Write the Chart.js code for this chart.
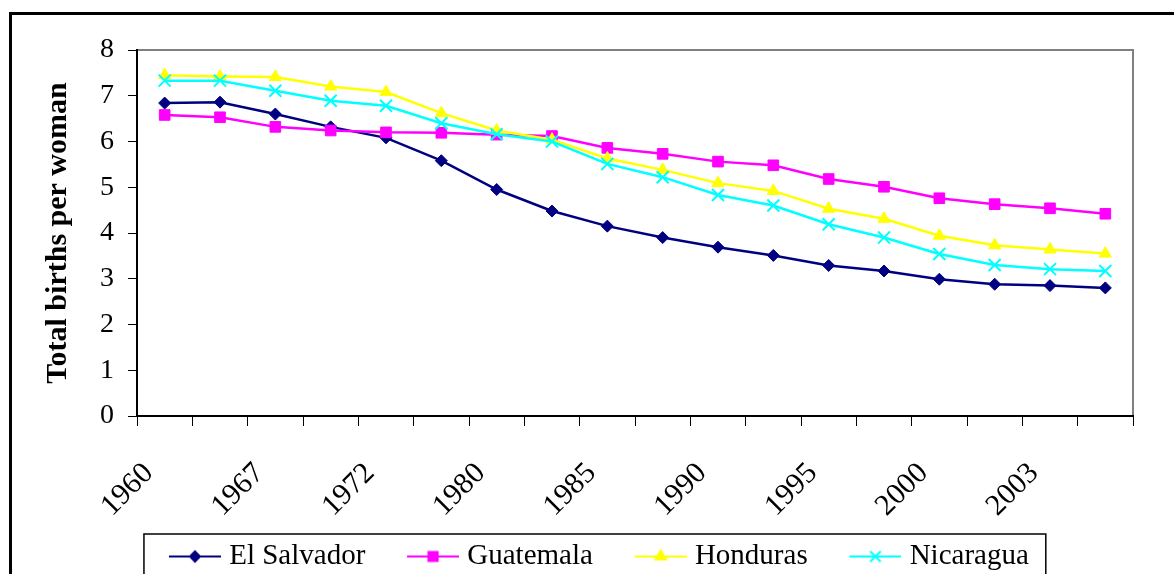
<!DOCTYPE html>
<html>
<head>
<meta charset="utf-8">
<script src="https://cdn.jsdelivr.net/npm/chart.js@4/dist/chart.umd.min.js"></script>
<style>
  html, body { margin: 0; padding: 0; background: #fff; overflow: hidden; }
  #wrap { position: absolute; left: 0; top: 0; width: 1174px; height: 581px; }
  #frame { position: absolute; left: 9px; top: 12px; width: 1300px; height: 700px;
           border-left: 3px solid #000; border-top: 3px solid #000; pointer-events: none; }
</style>
</head>
<body>
<div id="wrap"><canvas id="tfrChart"></canvas></div>
<div id="frame"></div>
<script>
// tick labels (only every second year is printed)
const years = ['1960', '', '1967', '', '1972', '', '1980', '', '1985', '',
               '1990', '', '1995', '', '2000', '', '2003', ''];

// total births per woman
const elSalvador = [6.84, 6.86, 6.60, 6.32, 6.08, 5.58, 4.95, 4.48, 4.15, 3.90, 3.69, 3.51, 3.29, 3.17, 2.99, 2.88, 2.85, 2.80];
const guatemala  = [6.58, 6.53, 6.32, 6.24, 6.20, 6.19, 6.15, 6.12, 5.86, 5.73, 5.56, 5.48, 5.18, 5.01, 4.76, 4.63, 4.54, 4.42];
const honduras   = [7.45, 7.42, 7.41, 7.20, 7.08, 6.62, 6.24, 6.04, 5.63, 5.38, 5.09, 4.92, 4.53, 4.31, 3.94, 3.73, 3.64, 3.55];
const nicaragua  = [7.33, 7.33, 7.11, 6.89, 6.78, 6.40, 6.16, 6.00, 5.51, 5.22, 4.83, 4.60, 4.19, 3.90, 3.54, 3.30, 3.21, 3.17];

const serif = "'Liberation Serif', 'Times New Roman', serif";

const series = [
  { label: 'El Salvador', data: elSalvador, color: '#000080', style: 'rectRot',  radius: 6 },
  { label: 'Guatemala',   data: guatemala,  color: '#FF00FF', style: 'rect',     radius: 7.5 },
  { label: 'Honduras',    data: honduras,   color: '#FFFF00', style: 'triangle', radius: 7 },
  { label: 'Nicaragua',   data: nicaragua,  color: '#00FFFF', style: 'crossRot', radius: 8.5 }
];

// legend spacing: labels.padding is also the top gap, so the icon is
// drawn off-centre inside a wider transparent canvas
const legPad = 24;
const legBoxW = 63.5;
const iconW = 76;

// legend icon: short line with the marker in the middle (like Excel)
function makeIcon(s) {
  const c = document.createElement('canvas');
  c.width = iconW; c.height = 20;
  const g = c.getContext('2d');
  const x0 = iconW - 52, mid = x0 + 26;
  g.strokeStyle = s.color;
  g.fillStyle = s.color;
  g.lineWidth = 2;
  g.beginPath(); g.moveTo(x0, 10); g.lineTo(iconW, 10); g.stroke();
  Chart.helpers.drawPoint(g, { pointStyle: s.style, radius: s.radius - 1, borderWidth: 2, rotation: 0 }, mid, 10);
  return c;
}
const icons = series.map(makeIcon);

// grey frame around the plot area
const plotFrame = {
  id: 'plotFrame',
  beforeDraw(chart) {
    const a = chart.chartArea, ctx = chart.ctx;
    ctx.save();
    ctx.strokeStyle = '#808080';
    ctx.lineWidth = 2;
    ctx.strokeRect(a.left, a.top, a.right - a.left, a.bottom - a.top);
    ctx.restore();
  }
};

// black box around the legend
const legendBox = {
  id: 'legendBox',
  afterDraw(chart) {
    const hb = chart.legend.legendHitBoxes;
    if (!hb || !hb.length) return;
    const first = hb[0], last = hb[hb.length - 1];
    const ctx = chart.ctx;
    const iconStart = first.left + legBoxW / 2 - iconW / 2 + (iconW - 52);
    const left = iconStart - 25, right = last.left + last.width + 17;
    const top = first.top + first.height / 2 - 22.5;
    ctx.save();
    ctx.strokeStyle = '#000';
    ctx.lineWidth = 1.5;
    ctx.strokeRect(left, top, right - left, chart.height + 20 - top);
    ctx.restore();
  }
};

const config = {
  type: 'line',
  data: {
    labels: years,
    datasets: series.map((s, i) => ({
      label: s.label,
      data: s.data,
      borderColor: s.color,
      backgroundColor: s.color,
      pointBackgroundColor: s.color,
      pointBorderColor: s.color,
      pointStyle: s.style,
      pointRadius: s.radius,
      pointHoverRadius: s.radius,
      pointBorderWidth: s.style === 'crossRot' ? 2 : 1,
      borderWidth: 2.5,
      tension: 0,
      order: series.length - i // later series on top, as in Excel
    }))
  },
  options: {
    responsive: true,
    maintainAspectRatio: false,
    animation: false,
    layout: { padding: { top: 50, right: 41, left: 47, bottom: 0 } },
    plugins: {
      tooltip: { enabled: false },
      legend: {
        position: 'bottom',
        labels: {
          usePointStyle: true,
          pointStyleWidth: legBoxW,
          padding: legPad,
          color: '#000',
          font: { family: serif, size: 29 },
          generateLabels(chart) {
            const items = Chart.defaults.plugins.legend.labels.generateLabels(chart);
            items.sort((a, b) => a.datasetIndex - b.datasetIndex);
            items.forEach(it => { it.pointStyle = icons[it.datasetIndex]; });
            return items;
          }
        }
      }
    },
    scales: {
      x: {
        offset: true,
        afterFit(scale) { scale.height = 102; },
        grid: { display: true, offset: true, drawOnChartArea: false, tickLength: 10, color: '#000', tickWidth: 1 },
        border: { color: '#000', width: 2 },
        ticks: {
          autoSkip: false,
          minRotation: 45,
          maxRotation: 45,
          padding: 14,
          color: '#000',
          font: { family: serif, size: 30 },
          // trailing spaces pull the rotated year a little left of the point, like Excel
          callback(value) {
            const t = this.getLabelForValue(value);
            return t ? t + '   ' : '';
          }
        }
      },
      y: {
        min: 0,
        max: 8,
        afterFit(scale) { scale.width = 90; },
        grid: { display: true, drawOnChartArea: false, tickLength: 9, color: '#000', tickWidth: 1 },
        border: { color: '#000', width: 2 },
        ticks: {
          stepSize: 1,
          padding: 14,
          color: '#000',
          font: { family: serif, size: 28 }
        },
        title: {
          display: true,
          text: 'Total births per woman',
          color: '#000',
          padding: { top: -7, bottom: 0 },
          font: { family: serif, size: 30, weight: 'bold' }
        }
      }
    }
  },
  plugins: [plotFrame, legendBox]
};

document.addEventListener('DOMContentLoaded', function () {
  const ctx = document.getElementById('tfrChart').getContext('2d');
  new Chart(ctx, config);
});
</script>
</body>
</html>
